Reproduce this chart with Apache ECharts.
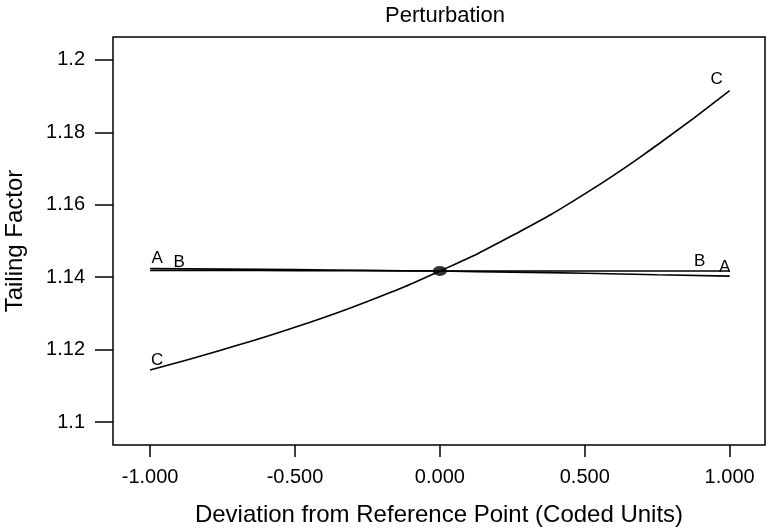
<!DOCTYPE html>
<html><head><meta charset="utf-8">
<script src="https://cdn.jsdelivr.net/npm/echarts@6/dist/echarts.min.js"></script>
<style>html,body{margin:0;padding:0;background:#fff}#c{width:768px;height:530px}</style>
</head><body><div id="c"></div>
<script>
const xValues = [-1, -0.75, -0.5, -0.25, 0, 0.25, 0.5, 0.75, 1];
const seriesA = [1.1424, 1.14225, 1.1421, 1.1419, 1.1417, 1.1414, 1.1411, 1.1407, 1.1403];
const seriesB = [1.1419, 1.1419, 1.1418, 1.1418, 1.1417, 1.1417, 1.1417, 1.1417, 1.1417];
const seriesC = [1.1144, 1.1200, 1.1262, 1.1333, 1.1417, 1.1515, 1.1630, 1.1765, 1.1915];
const centerPoint = [0, 1.1417];
const xTicks = [-1, -0.5, 0, 0.5, 1];
const yTicks = [1.1, 1.12, 1.14, 1.16, 1.18, 1.2];
const yTickLabels = ['1.1', '1.12', '1.14', '1.16', '1.18', '1.2'];

const FONT = 'Liberation Sans, Arial, sans-serif';
function pairs(ys){ return xValues.map((x,i)=>[x, ys[i]]); }
function withLabels(ys, labels){
  const d = pairs(ys).map(p=>({value:p}));
  labels.forEach(l=>{
    d[l.i].label = {show:true, formatter:l.text, position:'inside', offset:l.offset,
      color:'#000', fontSize:17, fontFamily:FONT};
  });
  return d;
}
const lineStyle = {color:'#000', width:1.6};
const hidden = {color:'rgba(0,0,0,0)'};
const chart = echarts.init(document.getElementById('c'));
chart.setOption({
  animation:false,
  backgroundColor:'#fff',
  title:{text:'Perturbation', left:440, top:0, textAlign:'center',
    textStyle:{fontFamily:FONT, fontWeight:'normal', fontSize:22, color:'#000'}},
  grid:{left:113, top:37, right:3, bottom:85, show:true, borderColor:'#000', borderWidth:1.5,
    outerBoundsMode:'none', containLabel:false},
  xAxis:{type:'value', min:-1.128, max:1.122,
    name:'Deviation from Reference Point (Coded Units)', nameLocation:'middle', nameGap:58,
    nameTextStyle:{fontFamily:FONT, fontSize:24, color:'#000'},
    axisLine:{show:false, onZero:false}, splitLine:{show:false},
    axisTick:{show:true, customValues:xTicks, length:12, lineStyle:{color:'#000', width:1.5}},
    axisLabel:{customValues:xTicks, margin:22, fontFamily:FONT, fontSize:20, color:'#000',
      formatter:v=>v.toFixed(3)}},
  yAxis:{type:'value', min:1.0937, max:1.2063,
    name:'Tailing Factor', nameLocation:'middle', nameGap:86,
    nameTextStyle:{fontFamily:FONT, fontSize:24, color:'#000'},
    axisLine:{show:false, onZero:false}, splitLine:{show:false},
    axisTick:{show:true, customValues:yTicks, length:18, lineStyle:{color:'#000', width:1.5}},
    axisLabel:{customValues:yTicks, margin:28, fontFamily:FONT, fontSize:20, color:'#000',
      formatter:v=>yTickLabels[yTicks.findIndex(t=>Math.abs(t-v)<1e-6)] ?? ''}},
  series:[
    {name:'A', type:'line', smooth:true, showSymbol:true, symbol:'circle', symbolSize:1, itemStyle:hidden, lineStyle,
      data:withLabels(seriesA, [{i:0, text:'A', offset:[7,-10]}, {i:8, text:'A', offset:[-5,-9]}])},
    {name:'B', type:'line', smooth:true, showSymbol:true, symbol:'circle', symbolSize:1, itemStyle:hidden, lineStyle,
      data:withLabels(seriesB, [{i:0, text:'B', offset:[29,-8]}, {i:8, text:'B', offset:[-30,-10]}])},
    {name:'C', type:'line', smooth:true, showSymbol:true, symbol:'circle', symbolSize:1, itemStyle:hidden, lineStyle,
      data:withLabels(seriesC, [{i:0, text:'C', offset:[7,-10]}, {i:8, text:'C', offset:[-13,-11]}])},
    {name:'center', type:'scatter', symbol:'circle', symbolSize:[14,10],
      itemStyle:{color:'#000'}, data:[centerPoint], z:5}
  ]
});
</script></body></html>
